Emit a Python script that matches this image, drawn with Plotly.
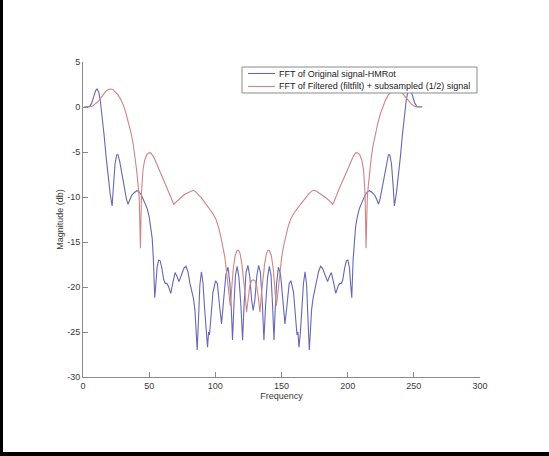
import plotly.graph_objects as go

# ---- spectrum of the original signal (HMRot), magnitude in dB ----
freq_orig = [
    1, 3, 5, 6.5, 8, 9.5, 10.6, 11.8, 13, 14.5, 16, 17.5, 19, 20.5, 22.0, 23.0,
    24.2, 25.5, 26.5, 27.8, 29.5, 31.2, 32.8, 34.0, 35.2, 36.8, 38.8, 40.8, 42.3,
    44.2, 46.5, 48.5, 50.0, 51.3, 52.3, 53.2, 54.2, 55.0, 56.0, 57.2, 58.3, 59.6,
    61.0, 62.2, 63.3, 64.5, 66.3, 67.8, 69.6, 71.0, 72.5, 74.3, 76.3, 77.8, 79.3,
    80.8, 82.2, 83.5, 84.6, 85.5, 86.3, 87.3, 88.3, 89.5, 90.7, 91.8, 93.0, 94.1,
    94.9, 95.6, 96.6, 98.2, 100.2, 101.5, 103.0, 104.7, 106.3, 108.0, 109.6,
    111.0, 112.1, 113.0, 114.0, 115.2, 116.5, 117.8, 119.3, 120.6, 121.7, 123.2,
    124.6, 126.0, 127.4, 128.6,
    129.9, 131.3, 132.7, 134.1, 135.6, 136.7, 138.0, 139.5, 140.8, 142.1, 143.3,
    144.3, 145.2, 146.3, 147.7, 149.3, 151.0, 152.6, 154.3, 155.8, 157.1, 159.1,
    160.7, 161.7, 162.4, 163.2, 164.3, 165.5, 166.6, 167.8, 169.0, 170.0, 171.0,
    171.8, 172.7, 173.8, 175.1, 176.5, 178.0, 179.5, 181.0, 183.0, 184.8, 186.3,
    187.7, 189.5, 191.0, 192.8, 194.0, 195.1, 196.3, 197.7, 199.0, 200.1, 201.3,
    202.3, 203.1, 204.1, 205.0, 206.0, 207.3, 208.8, 210.8, 213.1, 215.0, 216.5,
    218.5, 220.5, 222.1, 223.3, 224.5, 226.1, 227.8, 229.5, 230.8, 231.8, 233.1,
    234.3, 235.3, 236.8, 238.3, 239.8, 241.3, 242.8, 244.3, 245.5, 246.7, 247.8,
    249.3, 250.8, 252.3, 254.3, 256.3,
]
mag_orig = [
    0, 0, 0.05, 0.4, 1.1, 1.8, 2.0, 1.7, 0.8, -1.0, -3.2, -5.6, -7.8, -9.6, -11.0,
    -8.6, -6.3, -5.3, -5.3, -6.1, -7.6, -9.0, -10.2, -10.8, -10.3, -9.8, -9.5,
    -9.3, -9.4, -9.8, -10.6, -11.3, -12.2, -13.3, -14.6, -17.0, -21.2, -19.8,
    -17.8, -17.0, -17.1, -17.9, -19.2, -19.6, -19.6, -19.9, -20.7, -19.6, -18.4,
    -18.8, -19.4, -18.7, -17.9, -17.7, -18.3, -19.6, -20.4, -21.3, -22.6, -25.0,
    -27.0, -23.5, -19.8, -18.3, -19.6, -22.2, -25.0, -26.7, -25.0, -25.3, -23.5,
    -20.6, -19.3, -19.6, -21.8, -24.1, -21.4, -18.6, -17.8, -19.6, -22.6, -25.9,
    -22.2, -18.7, -17.7, -18.9, -22.0, -25.9, -22.0, -18.4, -17.6, -18.8, -21.4,
    -22.6,
    -21.4, -18.8, -17.6, -18.4, -22.0, -25.9, -22.0, -18.9, -17.7, -18.7, -22.2,
    -25.9, -22.6, -19.6, -17.8, -18.6, -21.4, -24.1, -21.8, -19.6, -19.3, -20.6,
    -23.5, -25.3, -25.0, -26.7, -25.0, -22.2, -19.6, -18.3, -19.8, -23.5, -27.0,
    -25.0, -22.6, -21.3, -20.4, -19.6, -18.3, -17.7, -17.9, -18.7, -19.4, -18.8,
    -18.4, -19.6, -20.7, -19.9, -19.6, -19.6, -19.2, -17.9, -17.1, -17.0, -17.8,
    -19.8, -21.2, -17.0, -14.6, -13.3, -12.2, -11.3, -10.6, -9.8, -9.4, -9.3,
    -9.5, -9.8, -10.3, -10.8, -10.2, -9.0, -7.6, -6.1, -5.3, -5.3, -6.3,
    -8.6, -11.0, -9.6, -7.8, -5.6, -3.2, -1.0, 0.8, 1.7, 2.0, 1.8,
    1.1, 0.4, 0.05, 0, 0,
]

# ---- spectrum after filtfilt + 1/2 subsampling, magnitude in dB ----
freq_filt = [
    1, 3, 5, 7, 9, 11, 13, 15, 17, 19, 20.7, 22.5, 24.5, 26.5, 28.5, 30.5, 32.5,
    34.5, 36.5, 38, 39.3, 40.5, 41.6, 42.5, 43.4, 44.2, 45.3, 46.6, 48.2, 49.8,
    51.2, 52.8, 54.8, 57, 59, 61, 63, 65, 67, 68.6, 70, 72, 74.5, 77, 79.5, 81.5,
    83.2, 85, 87, 89.5, 92, 95, 98, 100.5, 102.5, 104.3, 105.8, 107.2, 108.4,
    109.5, 110.5, 111.3, 112.3, 113.5, 115, 116.5, 117.5, 118.7, 120, 121.3,
    122.5, 123.6, 124.8, 126.0, 127.3, 128.6,
    130.0, 131.3, 132.5, 133.7, 134.8, 136.0, 137.3, 138.6, 139.8, 140.8, 142.3,
    143.8, 145.0, 146.0, 146.8, 147.8, 148.9, 150.1, 151.5, 153.0, 154.8, 156.8,
    159.3, 162.3, 165.3, 167.8, 170.3, 172.3, 174.1, 175.8, 177.8, 180.3, 182.8,
    185.3, 187.3, 188.7, 190.3, 192.3, 194.3, 196.3, 198.3, 200.3, 202.5, 204.5,
    206.1, 207.5, 209.1, 210.7, 212.0, 213.1, 213.9, 214.8, 215.7, 216.8, 218.0,
    219.3, 220.8, 222.8, 224.8, 226.8, 228.8, 230.8, 232.8, 234.8, 236.6, 238.3,
    240.3, 242.3, 244.3, 246.3, 248.3, 250.3, 252.3, 254.3, 256.3,
]
mag_filt = [
    0, 0, 0, 0.1, 0.3, 0.55, 0.9, 1.35, 1.7, 1.95, 2.0, 1.95, 1.7, 1.35, 0.85,
    0.2, -0.7, -1.8, -3.0, -4.2, -5.4, -7.0, -8.6, -10.2, -15.7, -9.5, -7.0,
    -5.9, -5.3, -5.1, -5.1, -5.4, -6.0, -6.8, -7.5, -8.2, -8.8, -9.5, -10.3,
    -10.8, -10.6, -10.3, -10.0, -9.7, -9.5, -9.3, -9.25, -9.4, -9.7, -10.1,
    -10.6, -11.2, -11.8, -12.5, -13.4, -14.5, -15.5, -16.7, -18.2, -19.8, -21.3,
    -22.1, -20.3, -18.0, -16.5, -15.95, -15.9, -16.3, -17.4, -19.0, -20.8, -22.8,
    -21.2, -19.9, -19.3, -19.2,
    -19.3, -19.9, -21.2, -22.8, -20.8, -19.0, -17.4, -16.3, -15.9, -15.95, -16.5,
    -18.0, -20.3, -22.1, -21.3, -19.8, -18.2, -16.7, -15.5, -14.5, -13.4, -12.5,
    -11.8, -11.2, -10.6, -10.1, -9.7, -9.4, -9.25, -9.3, -9.5, -9.7, -10.0,
    -10.3, -10.6, -10.8, -10.3, -9.5, -8.8, -8.2, -7.5, -6.8, -6.0, -5.4,
    -5.1, -5.1, -5.3, -5.9, -7.0, -9.5, -15.7, -10.2, -8.6, -7.0, -5.4,
    -4.2, -3.0, -1.8, -0.7, 0.2, 0.85, 1.35, 1.7, 1.95, 2.0, 1.95,
    1.7, 1.35, 0.9, 0.55, 0.3, 0.1, 0, 0, 0,
]

series_names = [
    "FFT of Original signal-HMRot",
    "FFT of Filtered (filtfilt) + subsampled (1/2) signal",
]
series_colors = ["#6668b2", "#cf8585"]
x_ticks = [0, 50, 100, 150, 200, 250, 300]
y_ticks = [5, 0, -5, -10, -15, -20, -25, -30]

# ---- page geometry (pixels) ----
W, H = 549, 456
ML, MR, MT, MB = 83, 69, 62, 79
PW, PH = W - ML - MR, H - MT - MB

def paper_x(px):
    return (px - ML) / PW

def paper_y(py):
    return (H - MB - py) / PH

FONT = "Liberation Sans, Arial, sans-serif"
AXIS_GREY = "#8a8a8a"
TEXT_GREY = "#3a3a3a"

fig = go.Figure()
fig.add_trace(go.Scatter(
    x=freq_orig, y=mag_orig, mode="lines", name=series_names[0],
    line=dict(color=series_colors[0], width=1.1),
))
fig.add_trace(go.Scatter(
    x=freq_filt, y=mag_filt, mode="lines", name=series_names[1],
    line=dict(color=series_colors[1], width=1.1),
))

axis_common = dict(
    showgrid=False, zeroline=False, showline=True, linecolor=AXIS_GREY,
    linewidth=1, ticks="inside", ticklen=5, tickcolor=AXIS_GREY,
    tickfont=dict(family=FONT, size=9, color=TEXT_GREY),
    mirror=False,
)
fig.update_xaxes(
    range=[0, 300], tickvals=x_ticks, ticktext=[str(v) for v in x_ticks],
    title=dict(text="Frequency", font=dict(family=FONT, size=9, color=TEXT_GREY),
               standoff=2),
    **axis_common,
)
fig.update_yaxes(
    range=[-30, 5], tickvals=y_ticks, ticktext=[str(v) for v in y_ticks],
    title=dict(text="Magnitude (db)", font=dict(family=FONT, size=9, color=TEXT_GREY),
               standoff=2),
    **axis_common,
)

# black frame on the left and bottom edges of the page
fig.add_shape(type="rect", xref="paper", yref="paper",
              x0=paper_x(0), x1=paper_x(3), y0=paper_y(H), y1=paper_y(0),
              fillcolor="black", line=dict(width=0), layer="above")
fig.add_shape(type="rect", xref="paper", yref="paper",
              x0=paper_x(0), x1=paper_x(W), y0=paper_y(H), y1=paper_y(H - 4),
              fillcolor="black", line=dict(width=0), layer="above")

# compact boxed legend in the upper right of the axes
LEG_L, LEG_R, LEG_T, LEG_B = 242, 477, 67, 93
row_y = [73.5, 86.5]
fig.add_shape(type="rect", xref="paper", yref="paper",
              x0=paper_x(LEG_L), x1=paper_x(LEG_R),
              y0=paper_y(LEG_B), y1=paper_y(LEG_T),
              fillcolor="white", line=dict(color="#8a8a8a", width=1), layer="above")
for name, color, ry in zip(series_names, series_colors, row_y):
    fig.add_shape(type="line", xref="paper", yref="paper",
                  x0=paper_x(248), x1=paper_x(275), y0=paper_y(ry), y1=paper_y(ry),
                  line=dict(color=color, width=1.1), layer="above")
    fig.add_annotation(text=name, xref="paper", yref="paper",
                       x=paper_x(278), y=paper_y(ry), xanchor="left", yanchor="middle",
                       showarrow=False, borderpad=0,
                       font=dict(family=FONT, size=9, color="#222222"))

fig.update_layout(
    width=W, height=H,
    margin=dict(l=ML, r=MR, t=MT, b=MB, pad=0),
    paper_bgcolor="white", plot_bgcolor="white",
    font=dict(family=FONT, size=9, color=TEXT_GREY),
    showlegend=False,
)

fig.write_html("out.html")
